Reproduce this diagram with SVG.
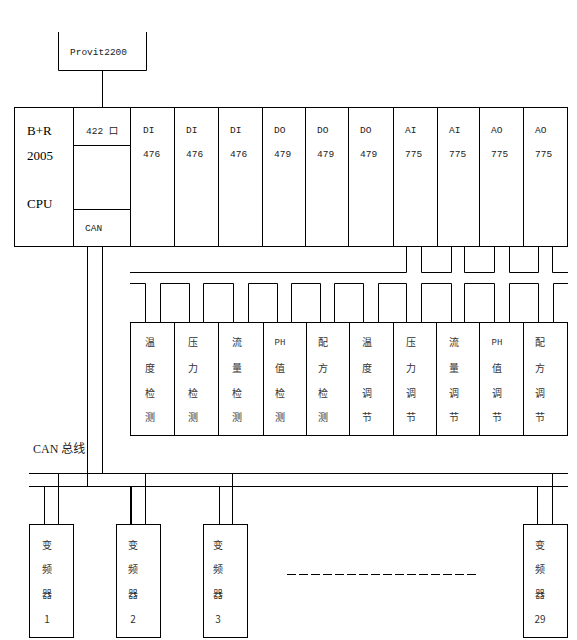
<svg xmlns="http://www.w3.org/2000/svg" width="577" height="640" viewBox="0 0 577 640">
<style>
.b{fill:#fff;stroke:#000;stroke-width:1}
.l{fill:none;stroke:#000;stroke-width:1}
.m{font-family:"Liberation Mono","Noto Sans CJK SC",monospace;font-size:9.5px;fill:#222}
.s{font-family:"Liberation Serif","Noto Sans CJK SC",serif;font-size:13px;fill:#000}
.c{font-family:"Noto Sans CJK SC","Liberation Sans",sans-serif;font-size:10px;fill:#333;text-anchor:middle}
</style>
<rect width="577" height="640" fill="#fff"/>
<g id="connectors" class="l">
<path d="M102.5 70 V107"/>
<path d="M87.5 246 V486.5 M102.5 246 V473.5"/>
<path d="M29 473.5 H568 M29 486.5 H568"/>
<path d="M406.5 246 V272.5 H130"/>
<path d="M421.5 246 V272.5 H451.5 V246 M464.5 246 V272.5 H494.5 V246 M509.5 246 V272.5 H538.5 V246 M552.5 246 V272.5 H568"/>
<path d="M130 283.5 H145.5 V322 M160.5 322 V283.5 H189.5 V322 M203.5 322 V283.5 H233.5 V322 M248.5 322 V283.5 H277.5 V322 M291.5 322 V283.5 H320.5 V322 M334.5 322 V283.5 H363.5 V322 M378.5 322 V283.5 H406.5 V322 M421.5 322 V283.5 H451.5 V322 M464.5 322 V283.5 H494.5 V322 M509.5 322 V283.5 H538.5 V322 M553.5 322 V283.5 H568"/>
<path d="M44.5 486.5 V524 M58.5 473.5 V524"/>
<path d="M131 486.5 V524" stroke-width="2"/>
<path d="M145.5 473.5 V524"/>
<path d="M219.5 486.5 V524 M232.5 473.5 V524"/>
<path d="M537.5 486.5 V524 M552.5 473.5 V524"/>
<path d="M287 574.5 H479" stroke-dasharray="9,3"/>
</g>
<g id="provit">
<path class="l" d="M58.5 32 V70.5 H146.5 V32"/>
<text class="m" x="70" y="55" font-size="10">Provit2200</text>
</g>
<g id="cpu">
<rect class="b" x="14.5" y="107.5" width="116" height="139"/>
<path class="l" d="M73.5 107.5 V246.5 M73.5 145.5 H130.5 M73.5 209.5 H130.5"/>
<text class="s" x="27" y="135">B+R</text>
<text class="s" x="27" y="160">2005</text>
<text class="s" x="27" y="208">CPU</text>
<text class="m" x="86" y="134">422 口</text>
<text class="m" x="85" y="231">CAN</text>
</g>
<g id="modules">
<rect class="b" x="130.5" y="107.5" width="437" height="139"/>
<path class="l" d="M130.5 107.5 V246.5" stroke-width="2"/>
<path class="l" d="M174.5 107.5 V246.5 M218.5 107.5 V246.5 M262.5 107.5 V246.5 M305.5 107.5 V246.5 M348.5 107.5 V246.5 M393.5 107.5 V246.5 M437.5 107.5 V246.5 M479.5 107.5 V246.5 M523.5 107.5 V246.5"/>
<g class="m">
<text x="143" y="133">DI</text><text x="143" y="157">476</text>
<text x="186" y="133">DI</text><text x="186" y="157">476</text>
<text x="230" y="133">DI</text><text x="230" y="157">476</text>
<text x="274" y="133">DO</text><text x="274" y="157">479</text>
<text x="317" y="133">DO</text><text x="317" y="157">479</text>
<text x="360" y="133">DO</text><text x="360" y="157">479</text>
<text x="405" y="133">AI</text><text x="405" y="157">775</text>
<text x="449" y="133">AI</text><text x="449" y="157">775</text>
<text x="491" y="133">AO</text><text x="491" y="157">775</text>
<text x="535" y="133">AO</text><text x="535" y="157">775</text>
</g>
</g>
<g id="signals">
<rect class="b" x="130.5" y="322.5" width="437" height="113"/>
<path class="l" d="M174.5 322.5 V435.5 M218.5 322.5 V435.5 M263.5 322.5 V435.5 M306.5 322.5 V435.5 M349.5 322.5 V435.5 M393.5 322.5 V435.5 M436.5 322.5 V435.5 M479.5 322.5 V435.5 M523.5 322.5 V435.5"/>
<g class="c">
<text x="150" y="346">温</text><text x="150" y="372">度</text><text x="150" y="397">检</text><text x="150" y="421">测</text>
<text x="193" y="346">压</text><text x="193" y="372">力</text><text x="193" y="397">检</text><text x="193" y="421">测</text>
<text x="237" y="346">流</text><text x="237" y="372">量</text><text x="237" y="397">检</text><text x="237" y="421">测</text>
<text x="280" y="345" font-family="Liberation Mono, monospace" font-size="9">PH</text><text x="280" y="372">值</text><text x="280" y="397">检</text><text x="280" y="421">测</text>
<text x="323" y="346">配</text><text x="323" y="372">方</text><text x="323" y="397">检</text><text x="323" y="421">测</text>
<text x="367" y="346">温</text><text x="367" y="372">度</text><text x="367" y="397">调</text><text x="367" y="421">节</text>
<text x="411" y="346">压</text><text x="411" y="372">力</text><text x="411" y="397">调</text><text x="411" y="421">节</text>
<text x="454" y="346">流</text><text x="454" y="372">量</text><text x="454" y="397">调</text><text x="454" y="421">节</text>
<text x="497" y="345" font-family="Liberation Mono, monospace" font-size="9">PH</text><text x="497" y="372">值</text><text x="497" y="397">调</text><text x="497" y="421">节</text>
<text x="540" y="346">配</text><text x="540" y="372">方</text><text x="540" y="397">调</text><text x="540" y="421">节</text>
</g>
</g>
<g id="canlabel">
<text x="33" y="453" font-family="Liberation Serif, Noto Sans CJK SC, serif" font-size="12" fill="#222">CAN 总线</text>
</g>
<g id="inv1">
<rect class="b" x="29.5" y="524.5" width="44" height="113"/>
<g class="c"><text x="47" y="549">变</text><text x="47" y="573">频</text><text x="47" y="598">器</text><text x="47" y="623">1</text></g>
</g>
<g id="inv2">
<rect class="b" x="116.5" y="524.5" width="44" height="113"/>
<g class="c"><text x="133" y="549">变</text><text x="133" y="573">频</text><text x="133" y="598">器</text><text x="133" y="623">2</text></g>
</g>
<g id="inv3">
<rect class="b" x="203.5" y="524.5" width="44" height="113"/>
<g class="c"><text x="218" y="549">变</text><text x="218" y="573">频</text><text x="218" y="598">器</text><text x="218" y="623">3</text></g>
</g>
<g id="inv29">
<rect class="b" x="523.5" y="524.5" width="44" height="113"/>
<g class="c"><text x="540" y="549">变</text><text x="540" y="573">频</text><text x="540" y="598">器</text><text x="540" y="623">29</text></g>
</g>
</svg>
